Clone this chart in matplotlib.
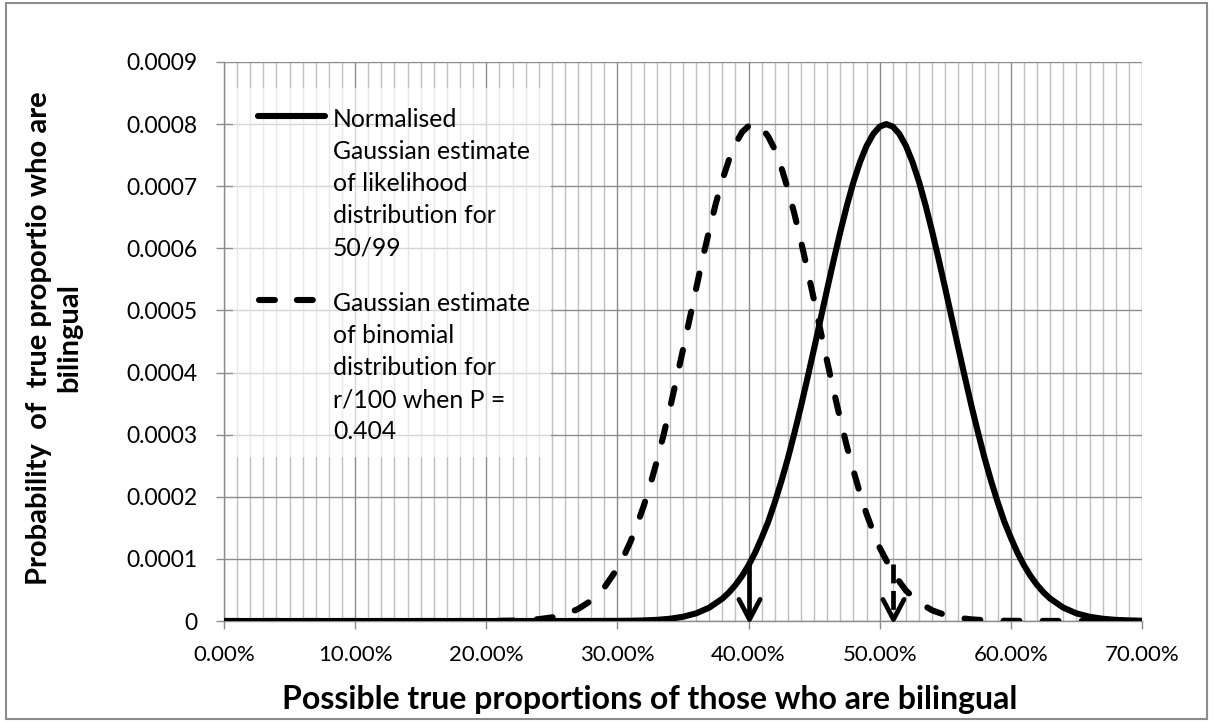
import matplotlib
matplotlib.use('Agg')
import matplotlib.pyplot as plt
from matplotlib.patches import Rectangle
from matplotlib.lines import Line2D
from matplotlib.path import Path
from matplotlib.markers import MarkerStyle
from matplotlib.ticker import MultipleLocator, FuncFormatter

plt.rcParams['font.family'] = ['Lato', 'DejaVu Sans']

# ---- data ----
solid_x = [0, 5, 10, 15, 20, 25, 30, 31, 32, 33, 34, 35, 36, 37, 38, 38.5, 39, 39.5, 40, 40.5,
           41, 41.5, 42, 42.5, 43, 43.5, 44, 44.5, 45, 45.5, 46, 46.5, 47, 47.5, 48, 48.5,
           49, 49.5, 50, 50.5, 51, 51.5, 52, 52.5, 53, 53.5, 54, 54.5, 55, 55.5, 56, 56.5,
           57, 57.5, 58, 58.5, 59, 59.5, 60, 60.5, 61, 61.5, 62, 62.5, 63, 64, 65, 66, 67,
           68, 69, 70]
solid_y = [0, 0, 0, 0, 0, 0, 0.0000002, 0.0000004, 0.0000009, 0.0000018, 0.0000036,
           0.0000068, 0.0000123, 0.0000215, 0.0000360, 0.0000459, 0.0000580, 0.0000725,
           0.0000898, 0.000110, 0.000134, 0.000160, 0.000191, 0.000225, 0.000262, 0.000303,
           0.000346, 0.000392, 0.000439, 0.000487, 0.000535, 0.000582, 0.000627, 0.000669,
           0.000707, 0.000739, 0.000765, 0.000784, 0.000796, 0.000800, 0.000796, 0.000784,
           0.000765, 0.000739, 0.000707, 0.000669, 0.000627, 0.000582, 0.000535, 0.000487,
           0.000439, 0.000392, 0.000346, 0.000303, 0.000262, 0.000225, 0.000191, 0.000160,
           0.000134, 0.000110, 0.0000898, 0.0000725, 0.0000580, 0.0000459, 0.0000360,
           0.0000215, 0.0000123, 0.0000068, 0.0000036, 0.0000018, 0.0000009, 0.0000004]

dashed_x = [0, 5, 10, 15, 20, 21, 22, 23, 24, 25, 26, 27, 28, 29, 30, 30.5, 31, 31.5, 32,
            32.5, 33, 33.5, 34, 34.5, 35, 35.5, 36, 36.5, 37, 37.5, 38, 38.5, 39, 39.5, 40,
            40.4, 41, 41.5, 42, 42.5, 43, 43.5, 44, 44.5, 45, 45.5, 46, 46.5, 47, 47.5, 48,
            48.5, 49, 49.5, 50, 51, 52, 53, 54, 55, 56, 57, 58, 59, 60, 65, 70]
dashed_y = [0, 0, 0, 0, 0, 0.0000003, 0.0000007, 0.0000015, 0.0000030, 0.0000058,
            0.0000108, 0.0000193, 0.0000329, 0.0000539, 0.0000847, 0.000105, 0.000128,
            0.000155, 0.000185, 0.000219, 0.000257, 0.000298, 0.000342, 0.000389, 0.000437,
            0.000486, 0.000535, 0.000584, 0.000629, 0.000672, 0.000710, 0.000742, 0.000768,
            0.000787, 0.000797, 0.000802, 0.000794, 0.000780, 0.000759, 0.000730, 0.000695,
            0.000655, 0.000611, 0.000564, 0.000516, 0.000466, 0.000417, 0.000370, 0.000324,
            0.000281, 0.000242, 0.000205, 0.000172, 0.000144, 0.000118, 0.0000777,
            0.0000490, 0.0000297, 0.0000172, 0.0000096, 0.0000051, 0.0000026, 0.0000013,
            0.0000006, 0.0000003, 0, 0]

arrow_x = [40, 51]
arrow_top = [0.000092, 0.000092]
arrow_bottom = [0.000003, 0.000003]
arrow_dashed = [False, True]

solid_label = "Normalised\nGaussian estimate\nof likelihood\ndistribution for\n50/99"
dashed_label = "Gaussian estimate\nof binomial\ndistribution for\nr/100 when P =\n0.404"
x_label = "Possible true proportions of those who are bilingual"
y_label = "Probability  of  true proportio who are\nbilingual"

# ---- figure ----
W, H = 1213, 722
fig = plt.figure(figsize=(W / 100, H / 100), dpi=100)
ax = fig.add_axes([224 / W, 1 - 621 / H, 918 / W, 559 / H])

grid_dark = '#8c8c8c'
grid_light = '#bfbfbf'

ax.set_xlim(0, 70)
ax.set_ylim(0, 0.0009)
ax.xaxis.set_major_locator(MultipleLocator(10))
ax.xaxis.set_minor_locator(MultipleLocator(1))
ax.yaxis.set_major_locator(MultipleLocator(0.0001))
ax.xaxis.set_major_formatter(FuncFormatter(lambda v, p: f"{v:.2f}%"))
ax.yaxis.set_major_formatter(FuncFormatter(lambda v, p: "0" if abs(v) < 1e-12 else f"{v:.4f}"))

ax.grid(which='minor', axis='x', color=grid_light, lw=1.0, zorder=0)
ax.grid(which='major', axis='x', color=grid_dark, lw=1.0, zorder=0)
ax.grid(which='major', axis='y', color=grid_dark, lw=1.0, zorder=0)
ax.set_axisbelow(True)

for s in ['top', 'right']:
    ax.spines[s].set_visible(False)
for s in ['left', 'bottom']:
    ax.spines[s].set_color(grid_dark)
    ax.spines[s].set_linewidth(1.0)

ax.tick_params(axis='both', which='major', direction='out', color=grid_dark,
               length=6, width=1.0, labelsize=16.5, labelcolor='black')
ax.tick_params(axis='x', which='major', labelsize=16, pad=11)
ax.tick_params(axis='y', which='major', pad=13)
ax.tick_params(axis='x', which='minor', length=0)

# legend background (semi-transparent white)
ax.add_patch(Rectangle((0.7, 0.000264), 24.2, 0.000858 - 0.000264,
                       facecolor='white', edgecolor='none', alpha=0.65, zorder=1))

LW = 4.4
DASH = (2.6, 3.8)

# curves
ax.plot(solid_x, solid_y, color='black', lw=LW, solid_capstyle='round',
        solid_joinstyle='round', zorder=3)
ax.plot(dashed_x, dashed_y, color='black', lw=LW, dashes=DASH,
        dash_capstyle='round', dash_joinstyle='round', zorder=3)

# arrows: shaft + open V head (marker tip sits on the arrow end)
vhead = MarkerStyle(Path([(-10.5, 20), (0, 0), (10.5, 20)],
                         [Path.MOVETO, Path.LINETO, Path.LINETO]),
                    joinstyle='round', capstyle='round')
for xa, yt, yb, dsh in zip(arrow_x, arrow_top, arrow_bottom, arrow_dashed):
    if dsh:
        ax.plot([xa, xa], [yt, yb], color='black', lw=3.4, dashes=(4, 1.6),
                solid_capstyle='butt', zorder=4)
    else:
        ax.plot([xa, xa], [yt, yb], color='black', lw=3.4, solid_capstyle='butt', zorder=4)
    ax.plot([xa], [yb], marker=vhead, markersize=29, markerfacecolor='none',
            markeredgecolor='black', markeredgewidth=3.4, linestyle='none', zorder=4)

# legend (manual, Excel-style with handle beside the first text line)
tx = (333 - 224) / 918
y1 = (621 - 116) / 559
y2 = (621 - 300) / 559
off = 8 / 559
ax.add_line(Line2D([(258 - 224) / 918, (325 - 224) / 918], [y1, y1], transform=ax.transAxes,
                   color='black', lw=LW, solid_capstyle='round', zorder=5))
ax.add_line(Line2D([(259 - 224) / 918, (316 - 224) / 918], [y2, y2], transform=ax.transAxes,
                   color='black', lw=LW, dashes=(2.6, 3.6), dash_capstyle='round', zorder=5))
ax.text(tx, y1 + off, solid_label, transform=ax.transAxes, ha='left', va='top', fontsize=17.8,
        linespacing=1.48, zorder=5)
ax.text(tx, y2 + off, dashed_label, transform=ax.transAxes, ha='left', va='top', fontsize=17.8,
        linespacing=1.48, zorder=5)

# axis titles
fig.text(650 / W, 1 - 700 / H, x_label, ha='center', va='center', fontsize=23,
         fontweight='bold')
fig.text(54 / W, 1 - 338 / H, y_label, ha='center', va='center', rotation=90, fontsize=21,
         fontweight='bold', linespacing=1.2, multialignment='center')

# chart border
fig.add_artist(Rectangle((6 / W, 1 - 719 / H), 1201 / W, 716 / H, transform=fig.transFigure,
                         fill=False, edgecolor=grid_dark, lw=1.5))

fig.savefig('out.png', dpi=100)
